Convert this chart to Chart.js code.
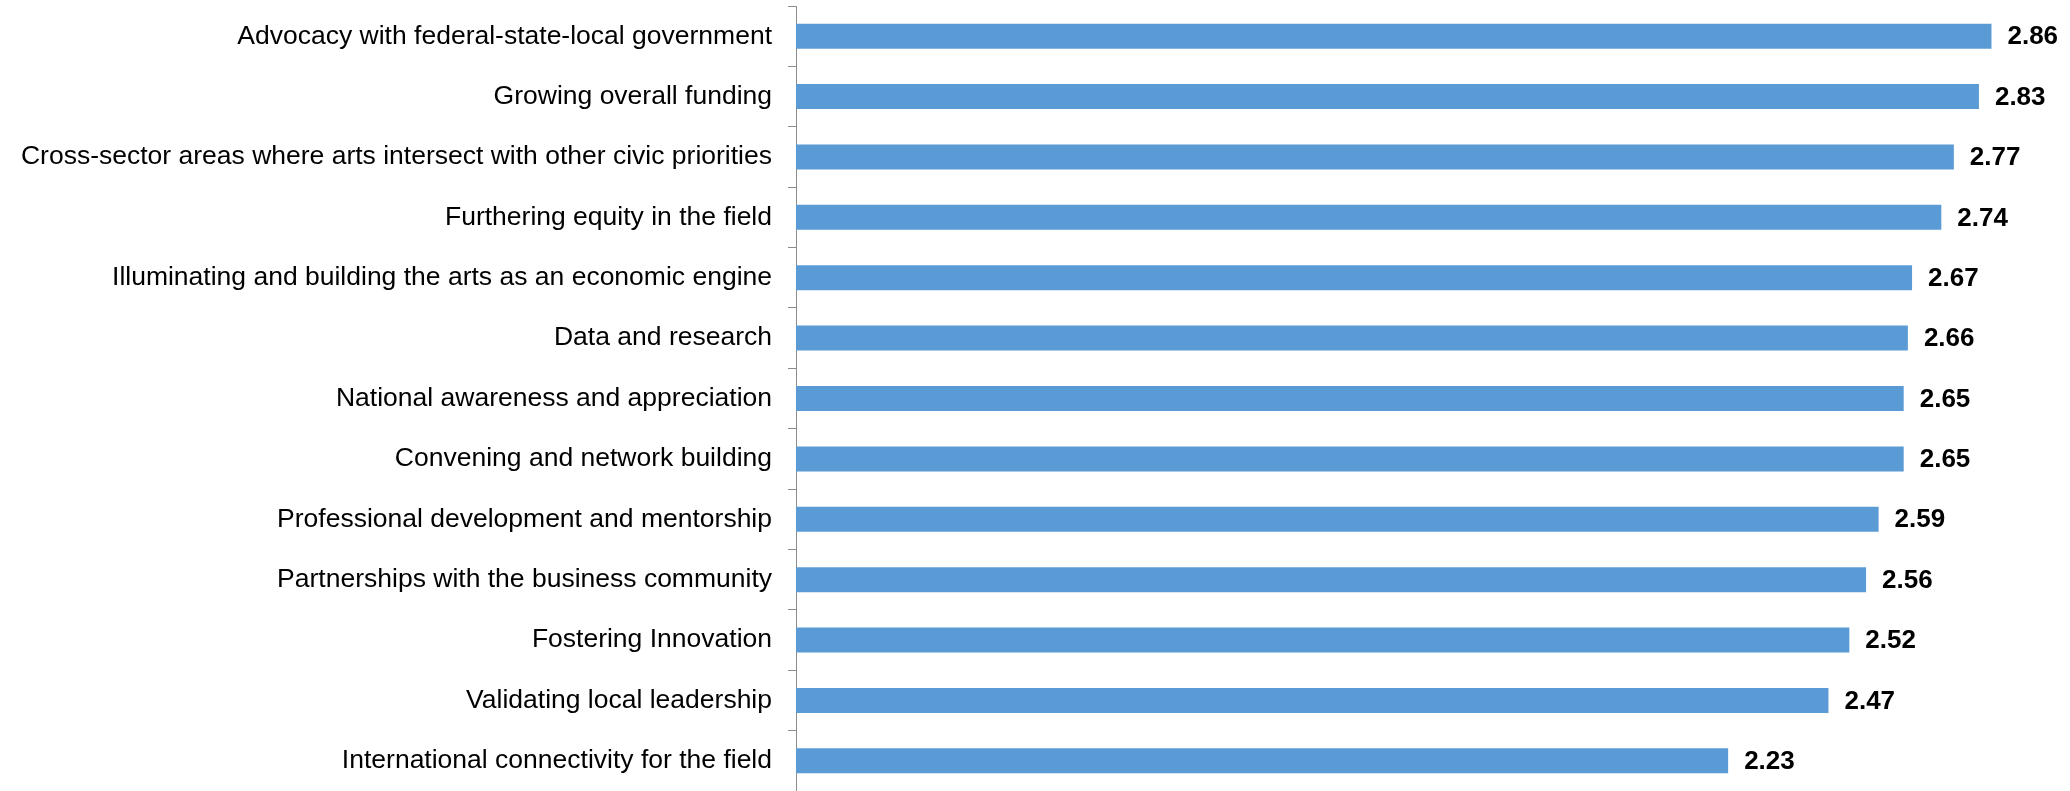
<!DOCTYPE html>
<html>
<head>
<meta charset="utf-8">
<script src="https://cdn.jsdelivr.net/npm/chart.js@4"></script>
<style>
  body { margin: 0; background: #fff; }
  canvas { display: block; }
</style>
</head>
<body>
<canvas id="chart" width="2070" height="791"></canvas>
<script>
const categories = [
  'Advocacy with federal-state-local government',
  'Growing overall funding',
  'Cross-sector areas where arts intersect with other civic priorities',
  'Furthering equity in the field',
  'Illuminating and building the arts as an economic engine',
  'Data and research',
  'National awareness and appreciation',
  'Convening and network building',
  'Professional development and mentorship',
  'Partnerships with the business community',
  'Fostering Innovation',
  'Validating local leadership',
  'International connectivity for the field'
];
const scores = [2.86, 2.83, 2.77, 2.74, 2.67, 2.66, 2.65, 2.65, 2.59, 2.56, 2.52, 2.47, 2.23];

const FONT = "'Liberation Sans', Arial, sans-serif";

// draws the bold value at the end of each bar
const valueLabels = {
  id: 'valueLabels',
  afterDatasetsDraw(chart) {
    const ctx = chart.ctx;
    const meta = chart.getDatasetMeta(0);
    ctx.save();
    ctx.font = 'bold 26px ' + FONT;
    ctx.fillStyle = '#000';
    ctx.textAlign = 'left';
    ctx.textBaseline = 'middle';
    meta.data.forEach((bar, i) => {
      ctx.fillText(scores[i].toFixed(2), bar.x + 16, bar.y + 1);
    });
    ctx.restore();
  }
};

new Chart(document.getElementById('chart').getContext('2d'), {
  type: 'bar',
  data: {
    labels: categories,
    datasets: [{
      data: scores,
      backgroundColor: '#5B9BD5',
      borderWidth: 0,
      barPercentage: 0.414,
      categoryPercentage: 1
    }]
  },
  options: {
    indexAxis: 'y',
    responsive: false,
    animation: false,
    layout: { padding: { top: 6, right: 20, bottom: 0, left: 0 } },
    plugins: {
      legend: { display: false },
      tooltip: { enabled: false }
    },
    scales: {
      x: {
        display: false,
        min: 0,
        max: 3
      },
      y: {
        afterFit(scale) {
          scale.width = 796;
          scale.paddingTop = 0;
          scale.paddingBottom = 0;
        },
        grid: {
          offset: true,
          drawOnChartArea: false,
          drawTicks: true,
          tickLength: 8,
          color: '#8c8c8c'
        },
        border: { display: true, color: '#8c8c8c', width: 1 },
        ticks: {
          padding: 16,
          color: '#000',
          font: { family: FONT, size: 26.5 }
        }
      }
    }
  },
  plugins: [valueLabels]
});
</script>
</body>
</html>
